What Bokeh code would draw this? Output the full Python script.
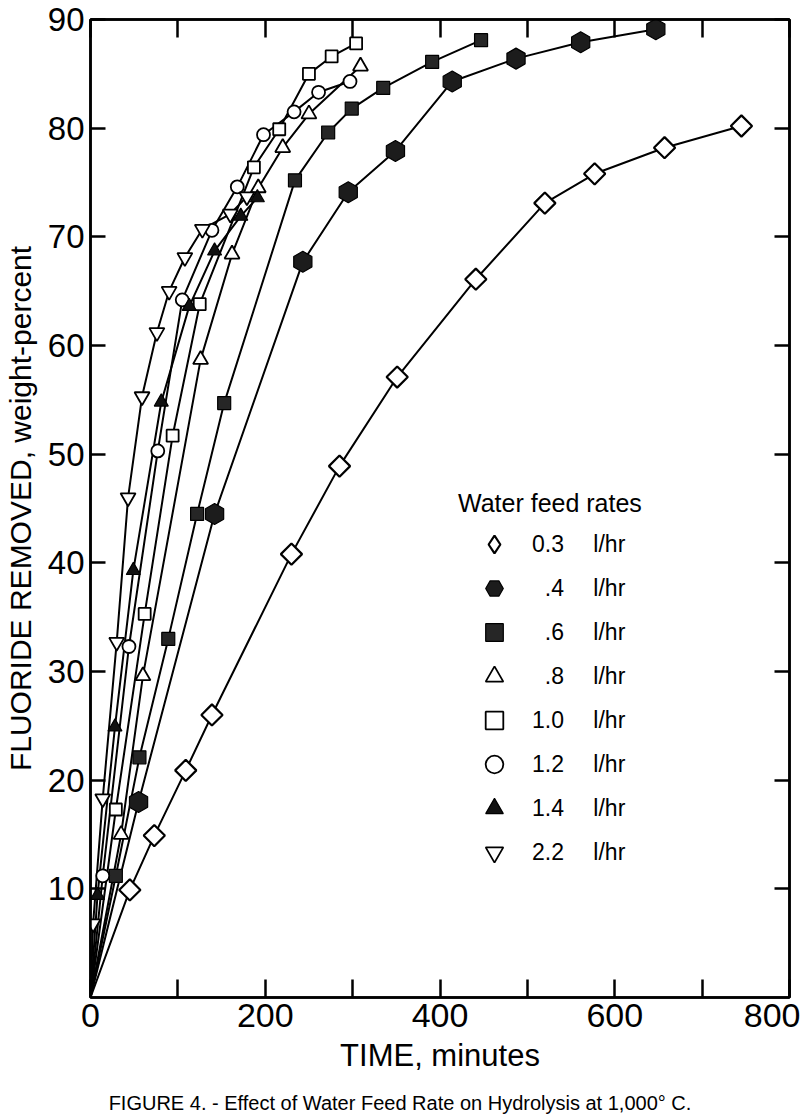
import numpy as np
from bokeh.plotting import figure
from bokeh.models import Range1d, FixedTicker, LinearAxis, Legend, LegendItem, Div
from bokeh.layouts import column
from bokeh.embed import file_html
from bokeh.resources import INLINE

# ---- data (time in minutes, fluoride removed in weight-percent)
rate_labels = ["0.3", ".4", ".6", ".8", "1.0", "1.2", "1.4", "2.2"]

t_03 = [45, 73, 109, 139, 230, 285, 351, 441, 520, 577, 657, 745]
v_03 = [9.9, 14.9, 20.9, 26.0, 40.8, 48.9, 57.1, 66.1, 73.1, 75.8, 78.2, 80.2]

t_04 = [55, 142, 243, 295, 349, 414, 487, 561, 647]
v_04 = [18.0, 44.5, 67.7, 74.1, 77.9, 84.3, 86.4, 87.9, 89.1]

t_06 = [29, 56, 89, 122, 153, 234, 272, 299, 335, 391, 447]
v_06 = [11.2, 22.1, 33.0, 44.5, 54.7, 75.2, 79.6, 81.8, 83.7, 86.1, 88.1]

t_08 = [35, 60, 126, 162, 192, 220, 250, 309]
v_08 = [15.0, 29.6, 58.7, 68.4, 74.5, 78.2, 81.3, 85.7]

t_10 = [29, 62, 94, 125, 187, 216, 250, 276, 304]
v_10 = [17.3, 35.3, 51.7, 63.8, 76.4, 79.9, 85.0, 86.6, 87.8]

t_12 = [14, 44, 77, 105, 139, 168, 198, 233, 261, 297]
v_12 = [11.2, 32.3, 50.3, 64.2, 70.6, 74.6, 79.4, 81.5, 83.3, 84.3]

t_14 = [8, 28, 49, 81, 113, 142, 172, 191]
v_14 = [9.4, 24.9, 39.3, 54.8, 63.6, 68.7, 71.9, 73.6]

t_22 = [3, 14, 30, 43, 59, 76, 90, 108, 128, 160, 179]
v_22 = [6.8, 18.3, 32.7, 46.0, 55.3, 61.2, 65.0, 68.1, 70.7, 72.1, 73.7]

x_ticks = [0, 200, 400, 600, 800]
x_minor = [100, 300, 500, 700]
y_ticks = [10, 20, 30, 40, 50, 60, 70, 80, 90]

FONT = "Liberation Sans"
INK = "black"

p = figure(width=800, height=1088, output_backend="svg", toolbar_location=None,
           x_range=Range1d(0, 800), y_range=Range1d(0, 90),
           min_border_left=89, min_border_right=11, min_border_top=19,
           min_border_bottom=91,
           x_axis_label="TIME, minutes",
           y_axis_label="FLUORIDE REMOVED, weight-percent")
p.xgrid.visible = False
p.ygrid.visible = False
p.outline_line_color = INK
p.outline_line_width = 2.5
p.background_fill_color = "white"
p.border_fill_color = "white"

# bottom axis
xa = p.xaxis[0]
xa.ticker = FixedTicker(ticks=x_ticks, minor_ticks=x_minor)
xa.major_tick_in = 18
xa.major_tick_out = 0
xa.minor_tick_in = 18
xa.minor_tick_out = 0
xa.major_tick_line_width = 2.5
xa.minor_tick_line_width = 2.5
xa.major_tick_line_color = INK
xa.minor_tick_line_color = INK
xa.axis_line_width = 2.5
xa.axis_line_color = INK
xa.major_label_text_font = FONT
xa.major_label_text_font_size = "34px"
xa.major_label_text_color = INK
xa.major_label_standoff = 6
xa.axis_label_text_font = FONT
xa.axis_label_text_font_size = "31px"
xa.axis_label_text_font_style = "normal"
xa.axis_label_text_color = INK
xa.axis_label_standoff = 8

# left axis
ya = p.yaxis[0]
ya.ticker = FixedTicker(ticks=y_ticks)
ya.major_tick_in = 15
ya.major_tick_out = 0
ya.minor_tick_in = 0
ya.minor_tick_out = 0
ya.major_tick_line_width = 2.5
ya.major_tick_line_color = INK
ya.axis_line_width = 2.5
ya.axis_line_color = INK
ya.major_label_text_font = FONT
ya.major_label_text_font_size = "33px"
ya.major_label_text_color = INK
ya.major_label_standoff = 6
ya.axis_label_text_font = FONT
ya.axis_label_text_font_size = "30px"
ya.axis_label_text_font_style = "normal"
ya.axis_label_text_color = INK
ya.axis_label_standoff = 8

# top and right axes: ticks only
top = LinearAxis(ticker=FixedTicker(ticks=x_ticks, minor_ticks=x_minor),
                 major_label_overrides={v: "" for v in x_ticks},
                 major_label_text_font_size="0px", major_label_standoff=0,
                 major_tick_in=18, major_tick_out=0, minor_tick_in=18, minor_tick_out=0,
                 major_tick_line_width=2.5, minor_tick_line_width=2.5,
                 major_tick_line_color=INK, minor_tick_line_color=INK,
                 axis_line_width=2.5, axis_line_color=INK)
right = LinearAxis(ticker=FixedTicker(ticks=y_ticks),
                   major_label_overrides={v: "" for v in y_ticks},
                   major_label_text_font_size="0px", major_label_standoff=0,
                   major_tick_in=15, major_tick_out=0, minor_tick_in=0, minor_tick_out=0,
                   major_tick_line_width=2.5, major_tick_line_color=INK,
                   axis_line_width=2.5, axis_line_color=INK)
p.add_layout(top, "above")
p.add_layout(right, "right")

series = [
    (t_03, v_03, "square", 15, np.pi / 4, "white", 2.2),
    (t_04, v_04, "hex", 21, np.pi / 2, "#1c1c1c", 1.2),
    (t_06, v_06, "square", 13, 0.0, "#262626", 1.2),
    (t_08, v_08, "triangle", 15, 0.0, "white", 1.8),
    (t_10, v_10, "square", 12, 0.0, "white", 1.8),
    (t_12, v_12, "circle", 13, 0.0, "white", 1.8),
    (t_14, v_14, "triangle", 14, 0.0, "#111111", 1.2),
    (t_22, v_22, "inverted_triangle", 15, 0.0, "white", 1.8),
]

# curves first (all start at the origin), markers on top
for t, v, *_ in series:
    p.line([0] + t, [0] + v, line_color=INK, line_width=2)

items = []
for i, (lab, (t, v, mk, sz, ang, fc, lw)) in enumerate(zip(rate_labels, series)):
    r = p.scatter(t, v, marker=mk, size=sz, angle=ang, fill_color=fc,
                  line_color=INK, line_width=lw)
    leg_r = r
    if i == 0:
        # legend swatch: an upright diamond (legend glyphs ignore the angle)
        leg_r = p.scatter(t, v, marker="diamond", size=sz, fill_color=fc,
                          line_color=INK, line_width=lw, visible=False)
    pad = "" if lab[0].isdigit() else "\u2007"
    items.append(LegendItem(label=pad + lab + "\u2003 l/hr", renderers=[leg_r]))

legend = Legend(items=items, title="Water feed rates", location=(368, 123),
                border_line_color=None, background_fill_alpha=0,
                inactive_fill_alpha=0,
                padding=0, margin=0, spacing=0,
                glyph_width=72, glyph_height=44, label_height=44,
                label_standoff=2,
                label_text_font=FONT, label_text_font_size="23px", label_text_color=INK,
                title_text_font=FONT, title_text_font_size="25px", title_text_color=INK,
                title_text_font_style="normal", title_standoff=4)
p.add_layout(legend)

caption = Div(text="FIGURE 4. - Effect of Water Feed Rate on Hydrolysis at 1,000\u00b0 C.",
              width=800, height=32, margin=0,
              styles={"font-family": FONT, "font-size": "20px", "color": "black",
                      "text-align": "center", "width": "800px", "line-height": "30px",
                      "background-color": "white"})

layout = column(p, caption, spacing=0)

open("out.html", "w").write(file_html(layout, INLINE))
